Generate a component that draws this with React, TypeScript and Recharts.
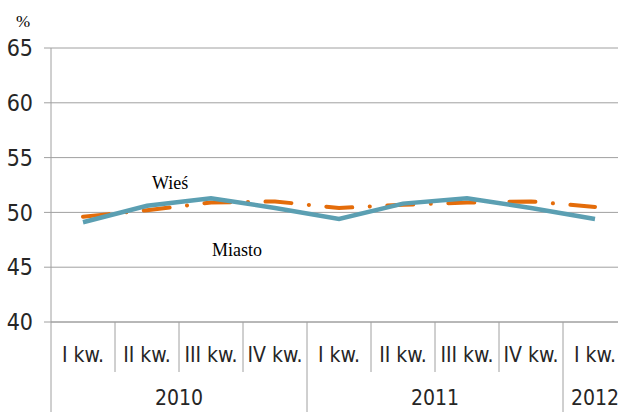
import React from 'react'
import { LineChart, Line, XAxis, YAxis, CartesianGrid } from 'recharts'

const quarters = ['I kw.', 'II kw.', 'III kw.', 'IV kw.', 'I kw.', 'II kw.', 'III kw.', 'IV kw.', 'I kw.']
const years = ['2010', '2010', '2010', '2010', '2011', '2011', '2011', '2011', '2012']
const miasto = [49.1, 50.6, 51.3, 50.4, 49.4, 50.8, 51.3, 50.4, 49.4]
const wies = [49.6, 50.2, 50.9, 51.0, 50.4, 50.7, 50.9, 51.0, 50.5]
const yTicks = [40, 45, 50, 55, 60, 65]

const data = quarters.map((q, i) => ({ id: i, q, year: years[i], miasto: miasto[i], wies: wies[i] }))

const FONT = "'Liberation Sans Narrow', 'DejaVu Sans Condensed', Lato, sans-serif"
const GRID = '#a0a0a0'
const BAND = 64

const QuarterTick = (props: any) => {
  const { x, y, payload } = props
  const i = payload.index
  const year = years[i]
  const lastOfYear = i === years.length - 1 || years[i + 1] !== year
  const firstOfYear = i === 0 || years[i - 1] !== year
  const count = years.filter((v) => v === year).length
  return (
    <g>
      <text x={x} y={y + 34} textAnchor="middle" dominantBaseline="middle" fill="#262626" fontSize={21} fontFamily={FONT}>
        {quarters[i]}
      </text>
      {i === 0 && <line x1={x - BAND / 2} x2={x - BAND / 2} y1={y} y2={y + 90} stroke={GRID} />}
      {i < years.length - 1 && (
        <line x1={x + BAND / 2} x2={x + BAND / 2} y1={y} y2={lastOfYear ? y + 90 : y + 50} stroke={GRID} />
      )}
      {firstOfYear && (
        <text x={x - BAND / 2 + (count * BAND) / 2} y={y + 77} textAnchor="middle" dominantBaseline="middle" fill="#262626" fontSize={21} fontFamily={FONT}>
          {year}
        </text>
      )}
    </g>
  )
}

export default function App() {
  return (
    <div style={{ position: 'absolute', left: 0, top: 0, width: 618, height: 412, overflow: 'hidden', background: '#fff' }}>
      <LineChart width={640} height={412} data={data} margin={{ top: 48, right: 13, bottom: 0, left: 0 }}>
        <CartesianGrid vertical={false} stroke={GRID} />
        <XAxis
          dataKey="id"
          type="category"
          padding={{ left: BAND / 2, right: BAND / 2 }}
          height={90}
          tickSize={0}
          tickMargin={0}
          tickLine={false}
          axisLine={{ stroke: GRID }}
          interval={0}
          tick={<QuarterTick />}
        />
        <YAxis
          width={51}
          domain={[40, 65]}
          ticks={yTicks}
          interval={0}
          tickSize={7}
          tickMargin={11}
          axisLine={{ stroke: GRID }}
          tickLine={{ stroke: GRID }}
          tick={{ fill: '#262626', fontSize: 23, fontFamily: FONT }}
        />
        <Line
          dataKey="wies"
          stroke="#e46c0a"
          strokeWidth={4}
          strokeDasharray="26 17.5 0.1 17.5"
          strokeLinecap="round"
          dot={false}
          isAnimationActive={false}
        />
        <Line dataKey="miasto" stroke="#5b9fb2" strokeWidth={4.5} dot={false} isAnimationActive={false} />
        <text x={23} y={27} textAnchor="middle" fontSize={17} fontFamily="'Liberation Serif', 'Times New Roman', serif" fill="#000">
          %
        </text>
        <text x={152} y={189} fontSize={18} fontFamily="'Liberation Serif', 'Times New Roman', serif" fill="#000">
          Wieś
        </text>
        <text x={212} y={256} fontSize={18} fontFamily="'Liberation Serif', 'Times New Roman', serif" fill="#000">
          Miasto
        </text>
      </LineChart>
    </div>
  )
}
